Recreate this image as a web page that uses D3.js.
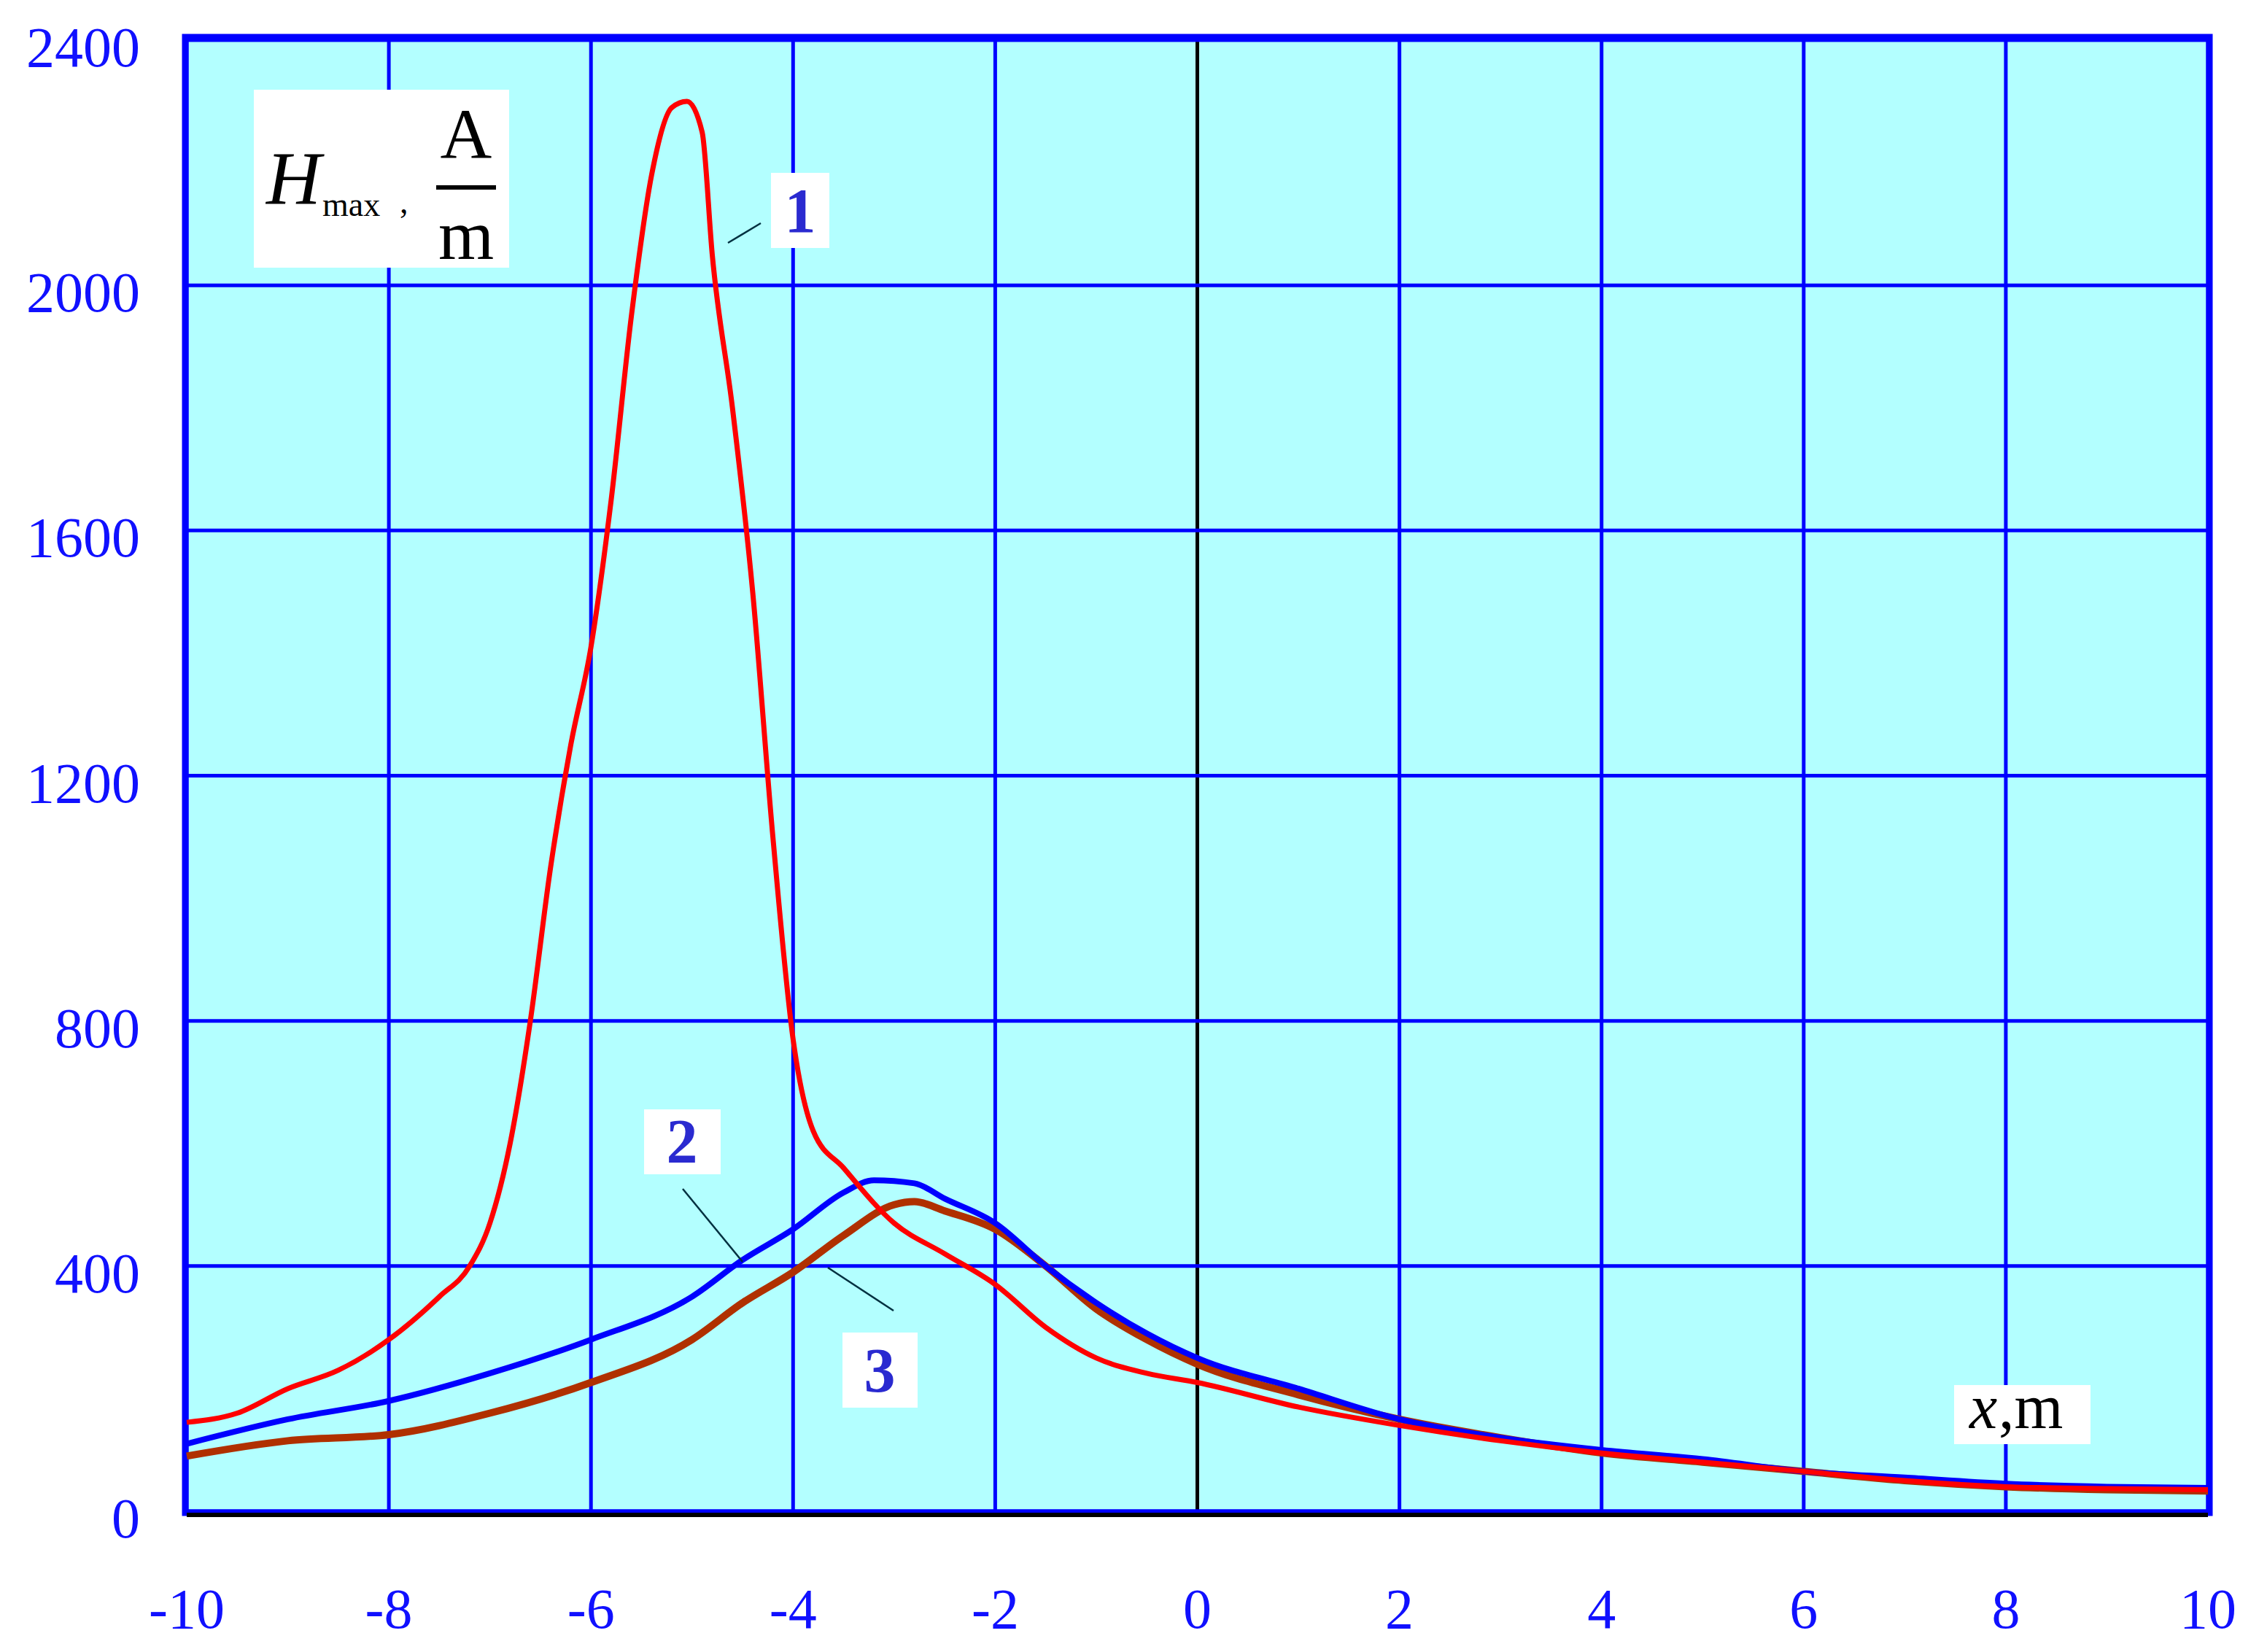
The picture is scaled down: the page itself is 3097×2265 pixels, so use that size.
<!DOCTYPE html>
<html><head><meta charset="utf-8">
<script src="https://cdn.jsdelivr.net/npm/d3@7"></script>
<style>body{margin:0;background:#fff}</style></head>
<body><svg id="c" width="3097" height="2265"></svg>
<script>
const xTicks=[-10,-8,-6,-4,-2,0,2,4,6,8,10];
const yTicks=[0,400,800,1200,1600,2000,2400];
const x1=[-10,-9.5,-9,-8.5,-8,-7.5,-7.2,-7,-6.8,-6.6,-6.4,-6.2,-6,-5.8,-5.6,-5.4,-5.2,-5.05,-4.9,-4.8,-4.6,-4.4,-4.2,-4,-3.8,-3.5,-3,-2.5,-2,-1.5,-1,-0.5,0,1,2,3,4,5,6,7,8,9,10];
const y1=[145,160,200,230,280,350,400,470,600,800,1050,1250,1410,1650,1950,2180,2290,2300,2250,2050,1800,1500,1100,770,620,560,470,420,370,300,250,225,210,170,140,115,95,80,65,50,40,37,35];
const x2=[-10,-9,-8,-7,-6,-5,-4.5,-4,-3.5,-3.2,-2.8,-2.5,-2,-1.5,-1,-0.5,0,1,2,3,4,5,6,7,8,9,10];
const y2=[110,150,180,225,280,350,410,460,520,540,535,510,470,400,340,290,250,200,150,120,100,85,65,55,45,40,38];
const x3=[-10,-9,-8,-7,-6,-5,-4.5,-4,-3.5,-3,-2.8,-2.5,-2,-1.5,-1,-0.5,0,1,2,3,4,5,6,7,8,9,10];
const y3=[90,115,125,160,210,280,340,390,450,500,505,490,460,400,330,280,240,190,150,120,95,80,65,50,40,35,33];

const svg=d3.select("#c");
const L=256,R=3027,T=55,B=2072;
const x=d3.scaleLinear().domain([-10,10]).range([L,R]);
const y=d3.scaleLinear().domain([0,2400]).range([B,T]);
svg.append("rect").attr("x",L).attr("y",T).attr("width",R-L).attr("height",B-T).attr("fill","#b3ffff");
const g=svg.append("g");
xTicks.forEach(t=>g.append("line").attr("x1",x(t)).attr("x2",x(t)).attr("y1",T).attr("y2",B).attr("stroke",t===0?"#000":"#0000ff").attr("stroke-width",5));
yTicks.forEach(t=>g.append("line").attr("x1",L).attr("x2",R).attr("y1",y(t)).attr("y2",y(t)).attr("stroke","#0000ff").attr("stroke-width",5));
svg.append("rect").attr("x",L-2).attr("y",T-4).attr("width",R-L+4).attr("height",B-T+6).attr("fill","none").attr("stroke","#0000ff").attr("stroke-width",9);
svg.append("line").attr("x1",L).attr("x2",R).attr("y1",B+5).attr("y2",B+5).attr("stroke","#000").attr("stroke-width",6);

const line=d3.line().x(d=>x(d[0])).y(d=>y(d[1])).curve(d3.curveMonotoneX);
[[x3,y3,"#b03000",10],[x2,y2,"#0000ff",8],[x1,y1,"#ff0000",7]].forEach(([xs,ys,c,w])=>{
  svg.append("path").attr("d",line(xs.map((v,i)=>[v,ys[i]]))).attr("fill","none").attr("stroke",c).attr("stroke-width",w);
});

const tf="'Liberation Serif','Times New Roman',serif";
const ax=svg.append("g").attr("font-family",tf).attr("font-size",78).attr("fill","#1010ff");
yTicks.forEach(t=>ax.append("text").attr("x",192).attr("y",y(t)+36).attr("text-anchor","end").text(t));
xTicks.forEach(t=>ax.append("text").attr("x",x(t)).attr("y",2232).attr("text-anchor","middle").text(t));

const ll=[[998,333,1043,306],[936,1630,1018,1730],[1225,1797,1135,1738]];
ll.forEach(a=>svg.append("line").attr("x1",a[0]).attr("y1",a[1]).attr("x2",a[2]).attr("y2",a[3]).attr("stroke","#003040").attr("stroke-width",2.5));

function box(x0,y0,w,h){svg.append("rect").attr("x",x0).attr("y",y0).attr("width",w).attr("height",h).attr("fill","#fff");}
box(348,123,350,244);
box(1057,237,80,103);box(883,1521,105,89);box(1155,1827,103,103);box(2679,1899,187,81);
const lab=svg.append("g").attr("font-family",tf).attr("font-weight","bold").attr("font-size",86).attr("fill","#2a2ad0").attr("text-anchor","middle");
lab.append("text").attr("x",1097).attr("y",318).text("1");
lab.append("text").attr("x",935).attr("y",1594).text("2");
lab.append("text").attr("x",1206).attr("y",1908).text("3");
const tx=svg.append("g").attr("font-family",tf).attr("fill","#000");
tx.append("text").attr("x",365).attr("y",280).attr("font-size",104).attr("font-style","italic").text("H");
tx.append("text").attr("x",442).attr("y",296).attr("font-size",46).text("max");
tx.append("text").attr("x",548).attr("y",292).attr("font-size",46).text(",");
tx.append("text").attr("x",639).attr("y",216).attr("font-size",98).attr("text-anchor","middle").text("A");
tx.append("line").attr("x1",598).attr("x2",680).attr("y1",257).attr("y2",257).attr("stroke","#000").attr("stroke-width",6);
tx.append("text").attr("x",639).attr("y",355).attr("font-size",98).attr("text-anchor","middle").text("m");
tx.append("text").attr("x",2700).attr("y",1958).attr("font-size",86).attr("font-style","italic").text("x");
tx.append("text").attr("x",2740).attr("y",1958).attr("font-size",86).text(",m");
</script></body></html>
